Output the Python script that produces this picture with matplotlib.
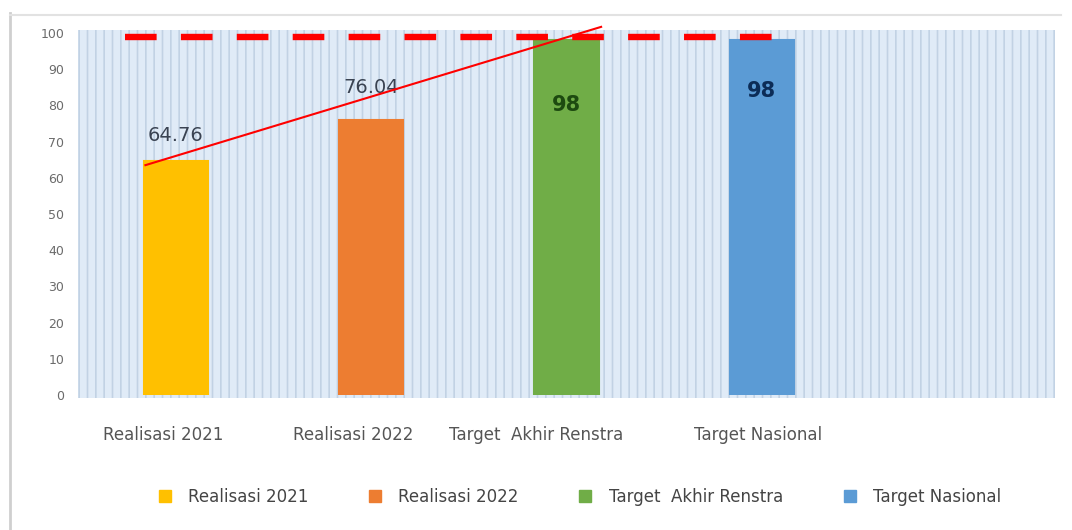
import matplotlib
matplotlib.use("Agg")
import matplotlib.pyplot as plt
import matplotlib.transforms as mtrans
from matplotlib.patches import Rectangle
from matplotlib.lines import Line2D

categories = ["Realisasi 2021", "Realisasi 2022", "Target  Akhir Renstra", "Target Nasional", ""]
values = [64.76, 76.04, 98, 98]
labels = ["64.76", "76.04", "98", "98"]
colors = ["#FFC000", "#ED7D31", "#70AD47", "#5B9BD5"]
label_colors = ["#3a4352", "#3a4352", "#1d4a10", "#0c2c57"]
yticks = [0, 10, 20, 30, 40, 50, 60, 70, 80, 90, 100]
target_line = 99
trend_x = [-0.156, 2.177]
trend_y = [63.5, 101.7]

plt.rcParams['hatch.linewidth'] = 1.2
fig = plt.figure(figsize=(10.72, 5.30), dpi=100)
ax = fig.add_axes([0.073, 0.2547, 0.911, 0.683])

# striped background
ax.set_facecolor("white")
ax.add_patch(Rectangle((0, -0.008), 1, 1.016, transform=ax.transAxes,
                       facecolor="#e0ebf7", edgecolor="#c2d2e4", hatch="||",
                       lw=0, zorder=0, clip_on=False))

x = list(range(len(values)))
ax.bar(x, values, width=0.33, color=colors, edgecolor=colors,
       linewidth=1.5, zorder=3)

offsets = [7, 9, -18, -14]
for i, (v, lab) in enumerate(zip(values, labels)):
    inside = offsets[i] < 0
    ax.text(i, v + offsets[i], lab, ha="center", va="center",
            fontsize=14 if not inside else 15, color=label_colors[i],
            fontweight="bold" if inside else "normal", zorder=5)

ax.hlines(target_line, -0.26, 3.07, colors="#FF0000", linestyles=(0, (4.95, 3.8)),
          linewidth=4.6, zorder=6, clip_on=False)
ax.plot(trend_x, trend_y, color="#FF0000", lw=1.5, zorder=7, clip_on=False)

ax.set_xlim(-0.5, 4.5)
ax.set_ylim(0, 100)
ax.set_yticks(yticks)
ax.set_yticklabels([str(t) for t in yticks], fontsize=9, color="#6b6b6b")
ax.set_xticks(range(len(categories)))
ax.set_xticklabels(categories, fontsize=12, color="#555555")
ax.tick_params(axis="both", length=0, pad=10)
ax.tick_params(axis="x", pad=22)
shifts = [-13, -18, -30, -4, 0]
for lbl, dx in zip(ax.get_xticklabels(), shifts):
    lbl.set_transform(lbl.get_transform() +
                      mtrans.ScaledTranslation(dx / 100, 0, fig.dpi_scale_trans))
for s in ax.spines.values():
    s.set_visible(False)

handles = [Line2D([0], [0], marker="s", linestyle="", markersize=8,
                  markerfacecolor=c, markeredgecolor=c) for c in colors]
fig.legend(handles, categories[:4], loc="center", bbox_to_anchor=(0.536, 0.062),
           ncol=4, frameon=False, fontsize=12, labelcolor="#444444",
           handletextpad=0.4, columnspacing=3.0)

# outer border lines
fig.add_artist(Line2D([0.009, 0.009], [0, 0.975], transform=fig.transFigure,
                      color="#cfcfcf", lw=2))
fig.add_artist(Line2D([0.009, 0.99], [0.972, 0.972], transform=fig.transFigure,
                      color="#e2e2e2", lw=1.5))

fig.savefig("out.png", dpi=100)
